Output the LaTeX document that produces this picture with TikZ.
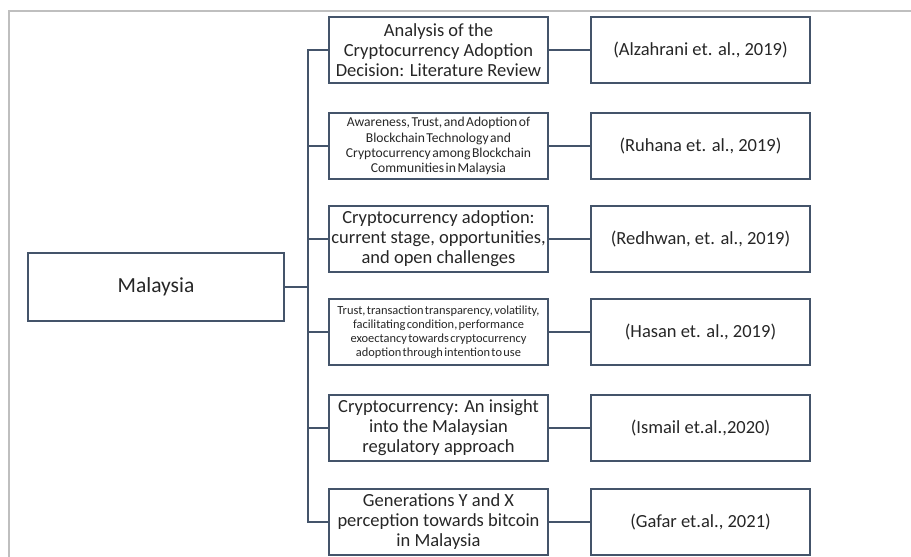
\documentclass[tikz,border=0pt]{standalone}
\usepackage{fontspec}
\setmainfont{Carlito}
\newfontfamily\condfont[WordSpace=0.5]{Carlito}
\definecolor{ln}{HTML}{44546A}
\definecolor{frm}{HTML}{BFBFBF}
\definecolor{txt}{HTML}{262626}
\begin{document}
\begin{tikzpicture}[x=1pt,y=-1pt,
  box/.style={draw=ln, line width=1.8pt, minimum width=219pt, minimum height=66pt,
    align=center, inner sep=0pt, text=txt, font=\fontsize{18.5}{20}\selectfont},
  small/.style={font=\condfont\fontsize{13.6}{15.2}\selectfont},
  tiny/.style={font=\condfont\fontsize{12.4}{14}\selectfont},
  conn/.style={draw=ln, line width=1.8pt}]
\useasboundingbox (0,0) rectangle (911,557);
\draw[frm, line width=1.6pt] (911,11) -- (9,11) -- (9,557);
\node[box, minimum width=256pt, minimum height=68pt, font=\fontsize{21.5}{24}\selectfont] (m) at (156,287) {Malaysia};
\coordinate (t) at (308,287);
\node[box] (a1) at (438.5,50) {Analysis of the\\Cryptocurrency Adoption\\Decision: Literature Review};
\node[box, small] (a2) at (438.5,146) {Awareness, Trust, and Adoption of\\Blockchain Technology and\\Cryptocurrency among Blockchain\\Communities in Malaysia};
\node[box] (a3) at (438.5,239) {Cryptocurrency adoption:\\current stage, opportunities,\\and open challenges};
\node[box, tiny] (a4) at (438.5,332) {Trust, transaction transparency, volatility,\\facilitating condition, performance\\exoectancy towards cryptocurrency\\adoption through intention to use};
\node[box] (a5) at (438.5,428) {Cryptocurrency: An insight\\into the Malaysian\\regulatory approach};
\node[box] (a6) at (438.5,522) {Generations Y and X\\perception towards bitcoin\\in Malaysia};
\node[box] (b1) at (700.5,50) {(Alzahrani et. al., 2019)};
\node[box] (b2) at (700.5,146) {(Ruhana et. al., 2019)};
\node[box] (b3) at (700.5,239) {(Redhwan, et. al., 2019)};
\node[box] (b4) at (700.5,332) {(Hasan et. al., 2019)};
\node[box] (b5) at (700.5,428) {(Ismail et.al.,2020)};
\node[box] (b6) at (700.5,522) {(Gafar et.al., 2021)};
\draw[conn] (m.east) -- (t);
\draw[conn] (a1.west) -- (a1.west -| t) -- (a6.west -| t) -- (a6.west);
\foreach \i in {2,3,4,5} {\draw[conn] (a\i.west -| t) -- (a\i.west);}
\foreach \i in {1,...,6} {\draw[conn] (a\i.east) -- (b\i.west);}
\end{tikzpicture}
\end{document}
